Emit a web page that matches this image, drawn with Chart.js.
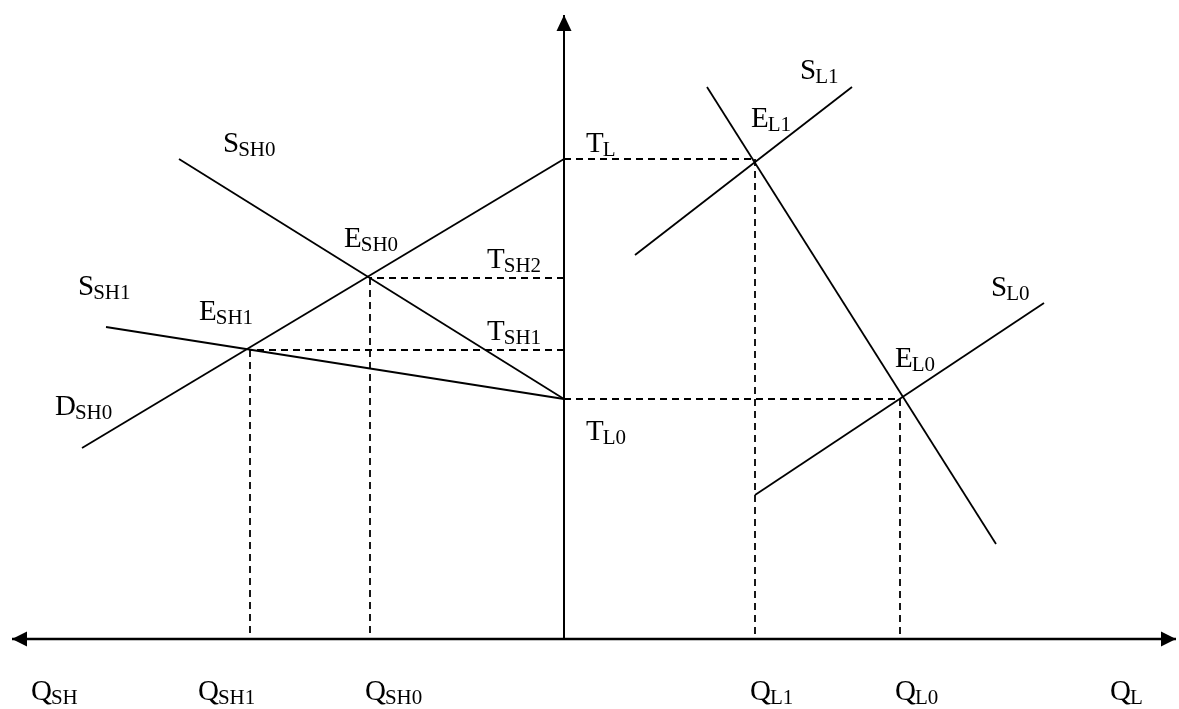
<!DOCTYPE html>
<html>
<head>
<meta charset="utf-8">
<script src="https://cdn.jsdelivr.net/npm/chart.js@4"></script>
<style>
  body { margin: 0; background: #fff; }
  #wrap { width: 1179px; height: 709px; position: relative; }
</style>
</head>
<body>
<div id="wrap"><canvas id="chart"></canvas></div>
<script>
// axes (origin where the two axes cross)
const qAxis = [[-552, 0], [612, 0]];
const tAxis = [[0, 0], [0, 624]];

// curves, two end points each
const dSH0 = [[-482, 191], [0, 480]];
const sSH0 = [[-385, 480], [0, 240]];
const sSH1 = [[-458, 312], [0, 240]];
const dL = [[143, 552], [432, 95]];
const sL1 = [[71, 384], [288, 552]];
const sL0 = [[191, 144], [480, 336]];

// equilibria: quantity and price
const eqQ = [-314, -194, 191, 336];
const eqT = [289, 361, 480, 240];

// text labels
const labelMain = ['S', 'E', 'T', 'S', 'E', 'T', 'D', 'T', 'T', 'S', 'E', 'S', 'E',
                   'Q', 'Q', 'Q', 'Q', 'Q', 'Q'];
const labelSub = ['SH0', 'SH0', 'SH2', 'SH1', 'SH1', 'SH1', 'SH0', 'L0', 'L', 'L1', 'L1', 'L0', 'L0',
                  'SH', 'SH1', 'SH0', 'L1', 'L0', 'L'];
const labelX = [-341, -220, -77, -486, -365, -77, -509, 22, 22, 236, 187, 427, 331,
                -533, -366, -199, 186, 331, 546];
const labelY = [487, 392, 371, 344, 319, 299, 224, 199, 487, 560, 512, 343, 272,
                -61, -61, -61, -61, -61, -61];

const toPts = arr => arr.map(p => ({ x: p[0], y: p[1] }));

function solid(data, width) {
    return {
        data: toPts(data),
        showLine: true,
        borderColor: '#000',
        borderWidth: width || 1.8,
        pointRadius: 0,
        fill: false
    };
}

function dashed(data) {
    const ds = solid(data, 1.8);
    ds.borderDash = [7, 5];
    return ds;
}

const datasets = [
    solid(qAxis, 2.6),
    solid(tAxis, 2),
    solid(dSH0), solid(sSH0), solid(sSH1),
    solid(dL), solid(sL1), solid(sL0)
];
eqQ.forEach((q, i) => {
    datasets.push(dashed([[0, eqT[i]], [q, eqT[i]]]));
    datasets.push(dashed([[q, eqT[i]], [q, 0]]));
});

// arrow heads on the axes + labels
const decorations = {
    id: 'decorations',
    afterDatasetsDraw(chart) {
        const ctx = chart.ctx;
        const xs = chart.scales.x, ys = chart.scales.y;
        const px = v => xs.getPixelForValue(v);
        const py = v => ys.getPixelForValue(v);
        ctx.save();
        ctx.fillStyle = '#000';

        // left
        let x = px(qAxis[0][0]), y = py(0);
        ctx.beginPath();
        ctx.moveTo(x, y); ctx.lineTo(x + 15, y - 7.5); ctx.lineTo(x + 15, y + 7.5);
        ctx.closePath(); ctx.fill();
        // right
        x = px(qAxis[1][0]);
        ctx.beginPath();
        ctx.moveTo(x, y); ctx.lineTo(x - 15, y - 7.5); ctx.lineTo(x - 15, y + 7.5);
        ctx.closePath(); ctx.fill();
        // top
        x = px(0); y = py(tAxis[1][1]);
        ctx.beginPath();
        ctx.moveTo(x, y); ctx.lineTo(x - 7.5, y + 16); ctx.lineTo(x + 7.5, y + 16);
        ctx.closePath(); ctx.fill();

        ctx.textBaseline = 'alphabetic';
        ctx.textAlign = 'left';
        labelMain.forEach((m, i) => {
            const lx = px(labelX[i]), ly = py(labelY[i]);
            ctx.font = '29px "Liberation Serif", "Times New Roman", serif';
            ctx.fillText(m, lx, ly);
            const w = ctx.measureText(m).width;
            ctx.font = '21px "Liberation Serif", "Times New Roman", serif';
            ctx.fillText(labelSub[i], lx + w - 1, ly + 4);
        });
        ctx.restore();
    }
};

new Chart(document.getElementById('chart'), {
    type: 'scatter',
    data: { datasets },
    options: {
        responsive: true,
        maintainAspectRatio: false,
        animation: false,
        layout: { padding: 0 },
        plugins: { legend: { display: false }, tooltip: { enabled: false } },
        scales: {
            x: { type: 'linear', min: -564, max: 615, display: false },
            y: { type: 'linear', min: -70, max: 639, display: false }
        }
    },
    plugins: [decorations]
});
</script>
</body>
</html>
